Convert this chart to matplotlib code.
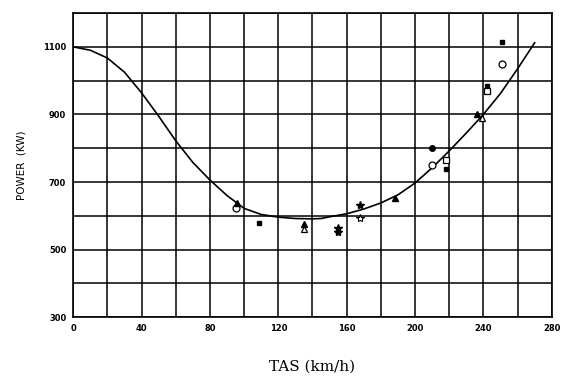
import matplotlib.pyplot as plt

# fitted curve
curve_tas = [0, 10, 20, 30, 40, 50, 60, 70, 80, 90, 100, 110, 120, 130, 140, 145,
             150, 160, 170, 180, 190, 200, 210, 220, 230, 240, 250, 260, 270]
curve_pow = [1100, 1090, 1067, 1025, 964, 895, 822, 758, 706, 660, 622, 604, 596, 592, 591, 592,
             597, 606, 620, 638, 662, 697, 742, 792, 845, 900, 962, 1035, 1112]

# measured points
circ_open_x = [95, 210, 251]
circ_open_y = [622, 750, 1050]
sq_fill_x = [109, 218, 242, 251]
sq_fill_y = [580, 738, 985, 1115]
sq_open_x = [218, 242]
sq_open_y = [765, 968]
dot_fill_x = [210]
dot_fill_y = [800]
tri_fill_x = [96, 135, 188, 236]
tri_fill_y = [637, 575, 652, 900]
tri_open_x = [135, 239]
tri_open_y = [562, 890]
star_fill_x = [155, 155, 168]
star_fill_y = [565, 553, 632]
star_open_x = [168]
star_open_y = [594]

x_ticks = [0, 40, 80, 120, 160, 200, 240, 280]
y_ticks = [300, 500, 700, 900, 1100]

fig = plt.figure(figsize=(5.63, 3.84), dpi=100)
ax = fig.add_axes([0.130, 0.174, 0.850, 0.792])

ax.plot(curve_tas, curve_pow, color='black', lw=1.2, zorder=3)

ms = 4
ax.plot(circ_open_x, circ_open_y, 'o', mfc='white', mec='black', ms=ms + 1, mew=0.9, zorder=4)
ax.plot(sq_fill_x, sq_fill_y, 's', color='black', ms=ms - 0.5, zorder=4)
ax.plot(sq_open_x, sq_open_y, 's', mfc='white', mec='black', ms=ms, mew=0.9, zorder=4)
ax.plot(dot_fill_x, dot_fill_y, 'o', color='black', ms=ms, zorder=4)
ax.plot(tri_fill_x, tri_fill_y, '^', color='black', ms=ms, zorder=4)
ax.plot(tri_open_x, tri_open_y, '^', mfc='white', mec='black', ms=ms + 0.5, mew=0.9, zorder=4)
ax.plot(star_fill_x, star_fill_y, '*', color='black', ms=ms + 2, zorder=4)
ax.plot(star_open_x, star_open_y, '*', mfc='white', mec='black', ms=ms + 2, mew=0.8, zorder=4)

ax.set_xlim(0, 280)
ax.set_ylim(300, 1200)
ax.set_xticks(range(0, 281, 20), minor=True)
ax.set_yticks(range(300, 1201, 100), minor=True)
ax.set_xticks(x_ticks)
ax.set_yticks(y_ticks)
ax.set_xticklabels([str(v) for v in x_ticks], fontsize=6, fontweight='bold')
ax.set_yticklabels([str(v) for v in y_ticks], fontsize=6, fontweight='bold')
ax.tick_params(which='both', length=0, pad=5)
ax.grid(True, which='both', color='black', lw=1.1)
ax.set_axisbelow(True)
for s in ax.spines.values():
    s.set_linewidth(1.2)

ax.set_ylabel('POWER  (KW)', fontsize=7.5, labelpad=12)
fig.text(0.555, 0.035, 'TAS (km/h)', family='DejaVu Serif', fontsize=11, ha='center')

fig.savefig('out.png', dpi=100)
